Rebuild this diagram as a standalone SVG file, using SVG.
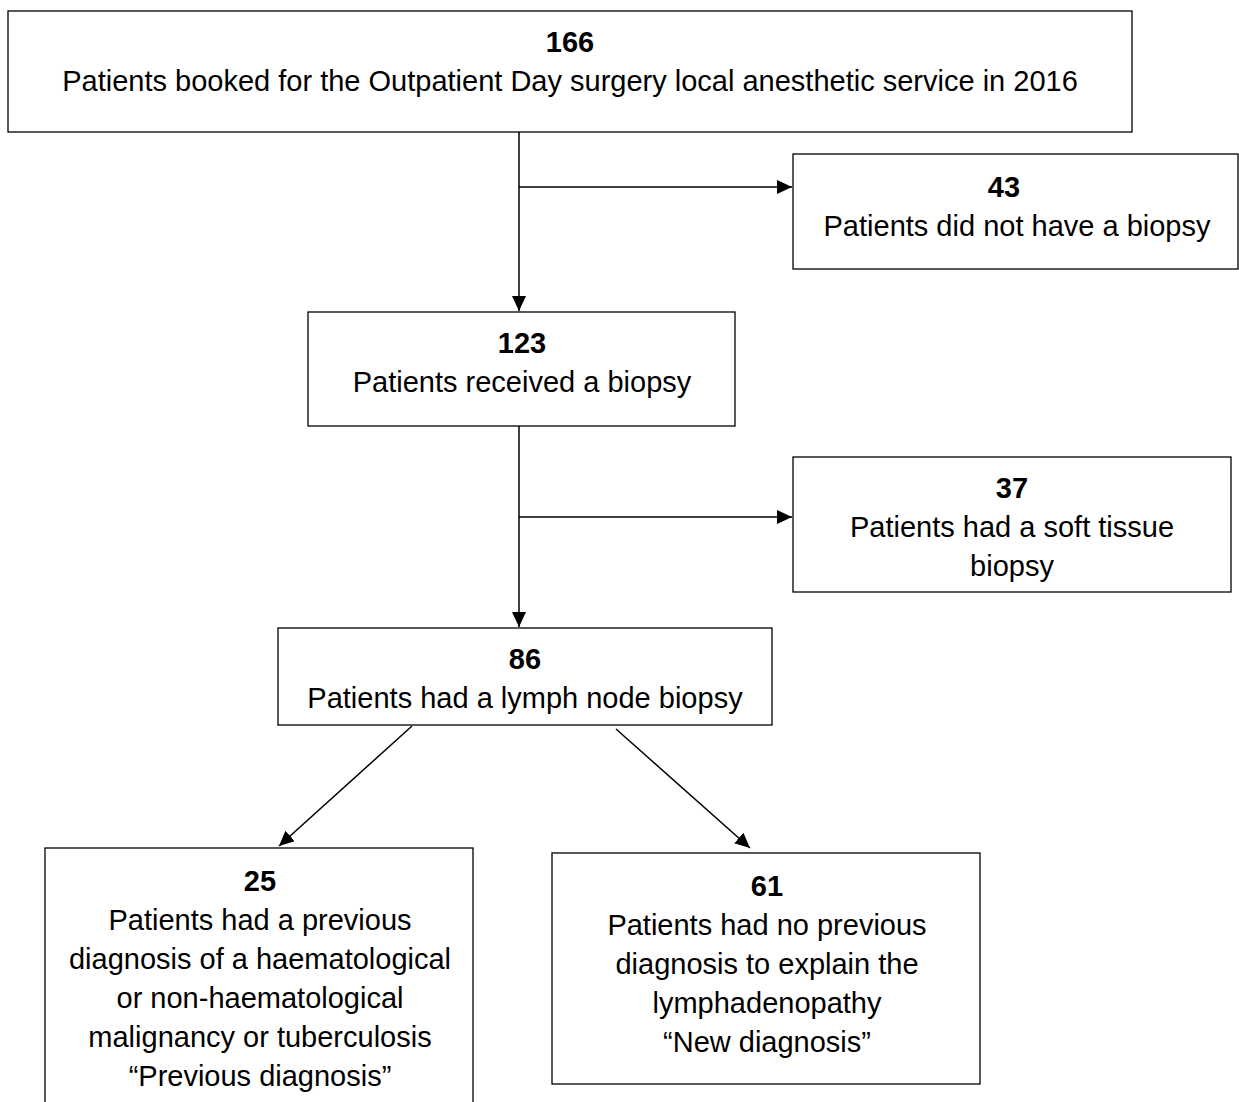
<svg xmlns="http://www.w3.org/2000/svg" width="1239" height="1102" viewBox="0 0 1239 1102">
<style>
.box{fill:#fff;stroke:#000;stroke-width:1.3}
.t{font-family:"Liberation Sans",Arial,sans-serif;font-size:29px;fill:#000;text-anchor:middle}
.b{font-weight:bold}
.c{stroke:#000;stroke-width:1.5;fill:none}
</style>
<defs>
<marker id="ah" markerUnits="userSpaceOnUse" markerWidth="16" markerHeight="14" refX="15" refY="7" orient="auto">
<path d="M0,0 L15,7 L0,14 Z" fill="#000"/>
</marker>
</defs>
<rect width="1239" height="1102" fill="#fff"/>
<g id="connectors">
<line class="c" x1="519" y1="132" x2="519" y2="311" marker-end="url(#ah)"/>
<line class="c" x1="519" y1="187" x2="792" y2="187" marker-end="url(#ah)"/>
<line class="c" x1="519" y1="426" x2="519" y2="627" marker-end="url(#ah)"/>
<line class="c" x1="519" y1="517" x2="792" y2="517" marker-end="url(#ah)"/>
<line class="c" x1="412" y1="726" x2="279" y2="846" marker-end="url(#ah)"/>
<line class="c" x1="616" y1="729" x2="750" y2="848" marker-end="url(#ah)"/>
</g>
<g id="n166">
<rect class="box" x="8" y="11" width="1124" height="121"/>
<text class="t b" x="570" y="52">166</text>
<text class="t" x="570" y="91">Patients booked for the Outpatient Day surgery local anesthetic service in 2016</text>
</g>
<g id="n43">
<rect class="box" x="793" y="154" width="445" height="115"/>
<text class="t b" x="1004" y="197">43</text>
<text class="t" x="1017" y="236">Patients did not have a biopsy</text>
</g>
<g id="n123">
<rect class="box" x="308" y="312" width="427" height="114"/>
<text class="t b" x="522" y="353">123</text>
<text class="t" x="522" y="392">Patients received a biopsy</text>
</g>
<g id="n37">
<rect class="box" x="793" y="457" width="438" height="135"/>
<text class="t b" x="1012" y="498">37</text>
<text class="t" x="1012" y="537">Patients had a soft tissue</text>
<text class="t" x="1012" y="576">biopsy</text>
</g>
<g id="n86">
<rect class="box" x="278" y="628" width="494" height="97"/>
<text class="t b" x="525" y="669">86</text>
<text class="t" x="525" y="708">Patients had a lymph node biopsy</text>
</g>
<g id="n25">
<rect class="box" x="45" y="848" width="428" height="270"/>
<text class="t b" x="260" y="891">25</text>
<text class="t" x="260" y="930">Patients had a previous</text>
<text class="t" x="260" y="969">diagnosis of a haematological</text>
<text class="t" x="260" y="1008">or non-haematological</text>
<text class="t" x="260" y="1047">malignancy or tuberculosis</text>
<text class="t" x="260" y="1086">“Previous diagnosis”</text>
</g>
<g id="n61">
<rect class="box" x="552" y="853" width="428" height="231"/>
<text class="t b" x="767" y="896">61</text>
<text class="t" x="767" y="935">Patients had no previous</text>
<text class="t" x="767" y="974">diagnosis to explain the</text>
<text class="t" x="767" y="1013">lymphadenopathy</text>
<text class="t" x="767" y="1052">“New diagnosis”</text>
</g>
</svg>
